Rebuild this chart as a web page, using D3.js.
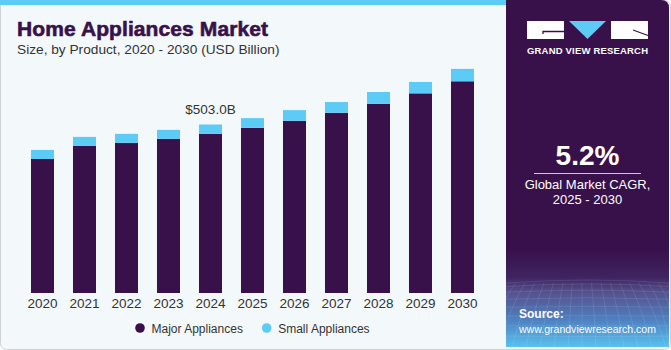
<!DOCTYPE html>
<html>
<head>
<meta charset="utf-8">
<script src="https://cdn.jsdelivr.net/npm/d3@7"></script>
<style>
  body { margin: 0; background: #fff; }
  svg text { font-family: "Liberation Sans", Arial, sans-serif; }
</style>
</head>
<body>
<div id="container"></div>
<script>
/* CONSTANTS AND GLOBALS */
const width = 671,
  height = 350;

// DATA (USD Billion)
const years = ["2020", "2021", "2022", "2023", "2024", "2025", "2026", "2027", "2028", "2029", "2030"];
const majorAppliances = [400, 439, 448, 460, 475, 493, 514, 538, 565, 596, 632];
const smallAppliances = [27, 27, 27, 27, 28, 29, 32, 32, 35, 34, 37];
const seriesNames = ["Major Appliances", "Small Appliances"];
const seriesColors = ["#38104a", "#5ccbf5"];
const calloutYear = "2024";
const calloutLabel = "$503.0B";

const rows = years.map((y, i) => ({ year: y, major: majorAppliances[i], small: smallAppliances[i] }));

const svg = d3.select("#container")
  .append("svg")
  .attr("width", width)
  .attr("height", height);

const defs = svg.append("defs");
const grad = defs.append("linearGradient")
  .attr("id", "panelGrad")
  .attr("x1", 0).attr("y1", 0).attr("x2", 0).attr("y2", 1);
[[0, "#38114a"], [0.72, "#38114a"], [0.8, "#3f2462"], [0.84, "#54508c"], [0.92, "#4f7fbf"], [1, "#58c1ee"]]
  .forEach(([o, c]) => grad.append("stop").attr("offset", o).attr("stop-color", c));

// BACKGROUND
svg.append("rect")
  .attr("x", 0.5).attr("y", 0.5)
  .attr("width", width - 1).attr("height", height - 1)
  .attr("rx", 6)
  .attr("fill", "#f3f8fb")
  .attr("stroke", "#cdd2d6");

svg.append("rect")
  .attr("x", 0).attr("y", 0)
  .attr("width", 506).attr("height", 5)
  .attr("fill", "#5ccbf5");

// RIGHT PANEL
const panel = svg.append("g");
panel.append("path")
  .attr("d", "M506,0 H661 Q669,0 669,8 V347 H506 Z")
  .attr("fill", "url(#panelGrad)");

// faint perspective mesh in the bottom of the panel
const mesh = panel.append("g")
  .attr("stroke", "#ffffff")
  .attr("stroke-opacity", 0.16)
  .attr("stroke-width", 0.6)
  .attr("fill", "none");
d3.range(0, 18).forEach(i => {
  const xb = 470 + i * 14;
  mesh.append("path").attr("d", `M${506 + i * 9.5},283 Q${(506 + i * 9.5 + xb) / 2},305 ${Math.min(xb, 669)},347`);
});
d3.range(0, 9).forEach(i => {
  const y = 283 + Math.pow(i / 8, 1.4) * 64;
  mesh.append("path").attr("d", `M506,${y} Q588,${y - 6 + i} 669,${y}`);
});

// logo
const logo = panel.append("g");
logo.append("rect").attr("x", 527).attr("y", 21).attr("width", 37).attr("height", 18).attr("fill", "#fff");
logo.append("path").attr("d", "M543,34 V31.5 H564").attr("stroke", "#38114a").attr("stroke-width", 1.3).attr("fill", "none");
logo.append("path").attr("d", "M569,21 H606 L587.5,39 Z").attr("fill", "#5ccbf5");
logo.append("rect").attr("x", 611).attr("y", 21).attr("width", 37).attr("height", 18).attr("fill", "#fff");
logo.append("path").attr("d", "M633,30 L648,35.5").attr("stroke", "#38114a").attr("stroke-width", 1.2);
logo.append("text")
  .attr("x", 587.5).attr("y", 54)
  .attr("text-anchor", "middle")
  .attr("fill", "#fff")
  .attr("font-size", 9.5)
  .attr("font-weight", "bold")
  .attr("textLength", 121)
  .text("GRAND VIEW RESEARCH");

panel.append("text")
  .attr("x", 587.5).attr("y", 165)
  .attr("text-anchor", "middle")
  .attr("fill", "#fff")
  .attr("font-size", 28)
  .attr("font-weight", "bold")
  .text("5.2%");
panel.append("line")
  .attr("x1", 534).attr("x2", 641)
  .attr("y1", 173.5).attr("y2", 173.5)
  .attr("stroke", "#cfc6d8").attr("stroke-width", 1.2);
panel.append("text")
  .attr("x", 587.5).attr("y", 189)
  .attr("text-anchor", "middle")
  .attr("fill", "#fff")
  .attr("font-size", 13)
  .text("Global Market CAGR,");
panel.append("text")
  .attr("x", 587.5).attr("y", 204)
  .attr("text-anchor", "middle")
  .attr("fill", "#fff")
  .attr("font-size", 13)
  .text("2025 - 2030");

panel.append("text")
  .attr("x", 519).attr("y", 318)
  .attr("fill", "#fff")
  .attr("font-size", 12)
  .attr("font-weight", "bold")
  .text("Source:");
panel.append("text")
  .attr("x", 519).attr("y", 333)
  .attr("fill", "#fff")
  .attr("font-size", 11.8)
  .attr("textLength", 137)
  .attr("lengthAdjust", "spacingAndGlyphs")
  .text("www.grandviewresearch.com");

// TITLES
svg.append("text")
  .attr("x", 17).attr("y", 36)
  .attr("fill", "#38114a")
  .attr("stroke", "#38114a")
  .attr("stroke-width", 0.6)
  .attr("font-size", 21)
  .attr("font-weight", "bold")
  .attr("textLength", 251)
  .text("Home Appliances Market");
svg.append("text")
  .attr("x", 17).attr("y", 54)
  .attr("fill", "#333")
  .attr("font-size", 13.7)
  .text("Size, by Product, 2020 - 2030 (USD Billion)");

// SCALES
const xScale = d3.scaleBand()
  .domain(years)
  .range([21.5, 483.5])
  .paddingInner(0.452)
  .paddingOuter(0.226);

const yScale = d3.scaleLinear()
  .domain([0, 700])
  .range([293, 58.5]);

// STACKED BARS
const stack = d3.stack().keys(["major", "small"]);
const stacked = stack(rows);

svg.selectAll("g.series")
  .data(stacked)
  .join("g")
  .attr("class", "series")
  .attr("fill", (d, i) => seriesColors[i])
  .selectAll("rect")
  .data(d => d)
  .join("rect")
  .attr("x", d => xScale(d.data.year))
  .attr("width", xScale.bandwidth())
  .attr("y", d => yScale(d[1]))
  .attr("height", d => yScale(d[0]) - yScale(d[1]));

// callout
const callRow = rows.find(r => r.year === calloutYear);
svg.append("text")
  .attr("x", xScale(calloutYear) + xScale.bandwidth() / 2)
  .attr("y", yScale(callRow.major + callRow.small) - 10)
  .attr("text-anchor", "middle")
  .attr("fill", "#333")
  .attr("font-size", 13.5)
  .text(calloutLabel);

// X AXIS
const xAxis = svg.append("g")
  .attr("transform", "translate(0,293)")
  .call(d3.axisBottom(xScale).tickSize(0).tickPadding(5));
xAxis.select(".domain").remove();
xAxis.selectAll("text")
  .attr("fill", "#333")
  .attr("font-size", 13.5)
  .style("font-family", "'Liberation Sans', Arial, sans-serif");

// LEGEND
const legendX = [140, 266.7];
const legend = svg.selectAll("g.legend")
  .data(seriesNames)
  .join("g")
  .attr("class", "legend")
  .attr("transform", (d, i) => `translate(${legendX[i]},328)`);
legend.append("circle")
  .attr("r", 4.8)
  .attr("fill", (d, i) => seriesColors[i]);
legend.append("text")
  .attr("x", 11.5)
  .attr("y", 4.5)
  .attr("fill", "#333")
  .attr("font-size", 12)
  .text(d => d);
</script>
</body>
</html>
